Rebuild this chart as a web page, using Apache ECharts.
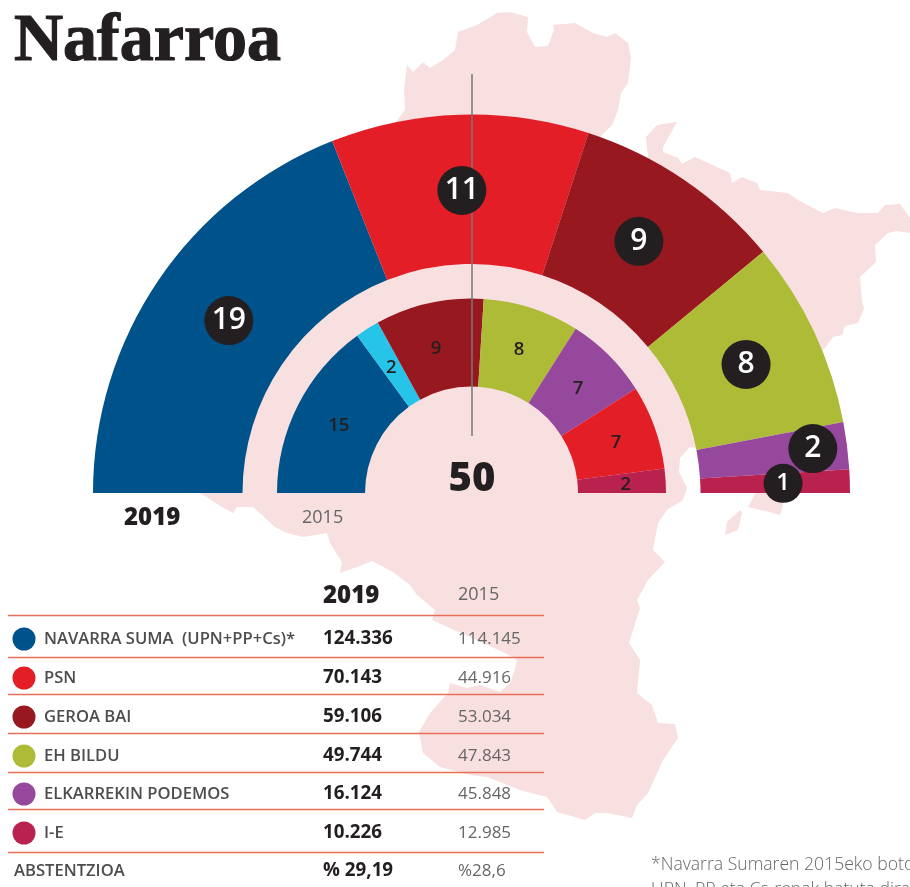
<!DOCTYPE html>
<html>
<head>
<meta charset="utf-8">
<title>Nafarroa</title>
<script src="https://cdn.jsdelivr.net/npm/echarts@6/dist/echarts.min.js"></script>
<style>
  html, body { margin: 0; padding: 0; background: #fff; overflow: hidden; }
  #chart { width: 910px; height: 887px; }
</style>
</head>
<body>
<div id="chart"></div>
<script>
// seats, left to right
const parties2019 = ['Navarra Suma', 'PSN', 'Geroa Bai', 'EH Bildu', 'Elkarrekin Podemos', 'I-E'];
const seats2019 = [19, 11, 9, 8, 2, 1];
const colors2019 = ['#00528a', '#e31e26', '#97181e', '#adbb36', '#96489c', '#b9214e'];

const parties2015 = ['UPN', 'PP', 'Geroa Bai', 'EH Bildu', 'Podemos', 'PSN', 'I-E'];
const seats2015 = [15, 2, 9, 8, 7, 7, 2];
const colors2015 = ['#00528a', '#27c4ea', '#97181e', '#adbb36', '#96489c', '#e31e26', '#b9214e'];

// table
const tableLabels = ['NAVARRA SUMA  (UPN+PP+Cs)*', 'PSN', 'GEROA BAI', 'EH BILDU', 'ELKARREKIN PODEMOS', 'I-E', 'ABSTENTZIOA'];
const tableDots = ['#00528a', '#e31e26', '#97181e', '#adbb36', '#96489c', '#b9214e', null];
const votes2019 = ['124.336', '70.143', '59.106', '49.744', '16.124', '10.226', '% 29,19'];
const votes2015 = ['114.145', '44.916', '53.034', '47.843', '45.848', '12.985', '%28,6'];
const rowTextY = [639, 678, 717, 756, 794, 833, 871];
const ruleY = [615, 657, 694, 733, 772, 809, 852];

// badge nudges off the ring middle
const badgeShift2019 = [[11, 0], [0, 4], [-5, 2], [-3, 2], [37, -6], [5, 0]];
const labelShift2015 = [[4, 2], [2, 4], [-2, 6], [0, 3], [-2, 4], [0, 2], [1, 1]];

// background map of Navarre
const mapMain = [
  [407, 65], [413, 72], [423, 62], [430, 68], [443, 60], [455, 50], [458, 32], [477, 25], [497, 13], [510, 12],
  [528, 17], [527, 32], [535, 47], [548, 46], [554, 30], [553, 25], [575, 23], [593, 33], [607, 37], [615, 33],
  [628, 43], [631, 58], [628, 83], [621, 93], [618, 110], [612, 125], [600, 137], [625, 160], [648, 157], [646, 137],
  [657, 125], [677, 122], [663, 147], [663, 152], [678, 158], [682, 164], [695, 157], [717, 167], [730, 173], [732, 183],
  [742, 177], [757, 183], [760, 190], [788, 193], [798, 200], [823, 213], [835, 208], [857, 213], [878, 213], [885, 205],
  [900, 204], [910, 218], [910, 233], [897, 231], [888, 233], [875, 245], [876, 262], [860, 277], [862, 302], [864, 308],
  [858, 323], [845, 326], [842, 335], [833, 337], [825, 348], [703, 449], [690, 447], [680, 458], [679, 472], [687, 488],
  [683, 500], [667, 510], [658, 523], [653, 550], [665, 562], [648, 580], [637, 600], [640, 608], [633, 630], [629, 643],
  [640, 660], [637, 693], [652, 705], [658, 723], [675, 724], [678, 738], [663, 760], [648, 793], [637, 805], [632, 818],
  [607, 813], [595, 813], [585, 820], [557, 812], [547, 797], [520, 790], [487, 777], [470, 775], [440, 767], [423, 753],
  [419, 732], [430, 713], [448, 693], [450, 683], [467, 688], [480, 685], [500, 692], [510, 683], [514, 672], [517, 660],
  [505, 653], [470, 637], [432, 620], [435, 610], [417, 595], [410, 585], [393, 572], [372, 561], [357, 567], [340, 573],
  [342, 562], [330, 543], [327, 533], [303, 537], [287, 533], [275, 527], [262, 515], [253, 507], [237, 507], [233, 513],
  [222, 507], [200, 493], [260, 300], [405, 110], [404, 90]
];
const mapIslandA = [[757, 490], [748, 507], [765, 511], [780, 515], [783, 505], [783, 490]];
const mapIslandB = [[740, 510], [727, 522], [725, 535], [738, 530], [742, 513]];

const FONT = '"Open Sans", sans-serif';
const INK = '#231f20';
const GREY = '#666666';
const RULE = '#e8705a';
const PINK = '#f8dfe0';

function pieData(names, values, colors) {
  return values.map((v, i) => ({ name: names[i], value: v, itemStyle: { color: colors[i] } }));
}

function shifted(shifts) {
  return params => ({ dx: shifts[params.dataIndex][0], dy: shifts[params.dataIndex][1] });
}

function text(x, y, str, size, weight, color, extra) {
  return {
    type: 'text',
    x: x,
    y: y,
    silent: true,
    style: Object.assign({
      text: str,
      fontFamily: FONT,
      fontSize: size,
      fontWeight: weight,
      fill: color,
      textVerticalAlign: 'middle'
    }, extra)
  };
}

const graphics = [
  { type: 'polygon', silent: true, shape: { points: mapMain }, style: { fill: PINK } },
  { type: 'polygon', silent: true, shape: { points: mapIslandA }, style: { fill: PINK } },
  { type: 'polygon', silent: true, shape: { points: mapIslandB }, style: { fill: PINK } },
  text(14, 42, 'Nafarroa', 68, 'bold', INK, { fontFamily: '"Liberation Serif", serif', stroke: INK, lineWidth: 1.2 }),
  text(124, 518, '2019', 24, 800, INK),
  text(302, 518, '2015', 18, 400, GREY),
  text(472, 480, '50', 40, 800, INK, { textAlign: 'center' }),
  text(323, 596, '2019', 24, 800, INK),
  text(458, 595, '2015', 18, 400, GREY),
  text(651, 865, '*Navarra Sumaren 2015eko botoak', 17.6, 300, GREY),
  text(651, 890, 'UPN, PP eta Cs-renak batuta dira.', 17.6, 300, GREY),
  // axis through the middle of both rings, under the badges
  {
    type: 'line',
    silent: true,
    z: 3,
    shape: { x1: 472, y1: 74, x2: 472, y2: 436 },
    style: { stroke: '#77777a', lineWidth: 1.5 }
  }
];

ruleY.forEach(y => {
  graphics.push({
    type: 'line',
    silent: true,
    shape: { x1: 8, y1: y + 0.5, x2: 544, y2: y + 0.5 },
    style: { stroke: RULE, lineWidth: 1.5 }
  });
});

tableLabels.forEach((label, i) => {
  const x = tableDots[i] ? 44 : 14;
  if (tableDots[i]) {
    graphics.push({
      type: 'circle',
      silent: true,
      shape: { cx: 24, cy: rowTextY[i], r: 11.5 },
      style: { fill: tableDots[i] }
    });
  }
  graphics.push(text(x, rowTextY[i], label, 16.6, 600, '#4d4d4f'));
  graphics.push(text(323, rowTextY[i], votes2019[i], 18.8, 700, INK));
  graphics.push(text(458, rowTextY[i], votes2015[i], 17, 400, GREY));
});

const chart = echarts.init(document.getElementById('chart'), null, { renderer: 'canvas' });

chart.setOption({
  animation: false,
  tooltip: { show: false },
  graphic: { elements: graphics },
  series: [
    {
      type: 'pie',
      z: 2,
      silent: true,
      center: [471.5, 493],
      radius: [229, 378.5],
      startAngle: 180,
      endAngle: 0,
      label: { show: false },
      labelLine: { show: false },
      data: pieData(parties2019, seats2019, colors2019)
    },
    {
      type: 'pie',
      z: 2,
      silent: true,
      center: [471.5, 493],
      radius: [106.5, 194.5],
      startAngle: 180,
      endAngle: 0,
      label: { show: false },
      labelLine: { show: false },
      data: pieData(parties2015, seats2015, colors2015)
    },
    // same rings again, see-through, so the labels sit on top of the grey line
    {
      type: 'pie',
      z: 4,
      silent: true,
      center: [471.5, 493],
      radius: [229, 378.5],
      startAngle: 180,
      endAngle: 0,
      itemStyle: { color: 'transparent' },
      labelLine: { show: false },
      label: {
        show: true,
        position: 'inside',
        formatter: p => (p.value < 2 ? '{small|' + p.value + '}' : '{big|' + p.value + '}'),
        rich: {
          big: {
            width: 49, height: 49, lineHeight: 49, borderRadius: 25, align: 'center',
            backgroundColor: INK, color: '#fff',
            fontFamily: FONT, fontSize: 30, fontWeight: 600
          },
          small: {
            width: 39, height: 39, lineHeight: 39, borderRadius: 20, align: 'center',
            backgroundColor: INK, color: '#fff',
            fontFamily: FONT, fontSize: 24, fontWeight: 600
          }
        }
      },
      labelLayout: shifted(badgeShift2019),
      data: seats2019.map((v, i) => ({ name: parties2019[i], value: v }))
    },
    {
      type: 'pie',
      z: 4,
      silent: true,
      center: [471.5, 493],
      radius: [106.5, 194.5],
      startAngle: 180,
      endAngle: 0,
      itemStyle: { color: 'transparent' },
      labelLine: { show: false },
      label: {
        show: true,
        position: 'inside',
        formatter: '{c}',
        color: INK,
        fontFamily: FONT,
        fontSize: 18.5,
        fontWeight: 600
      },
      labelLayout: shifted(labelShift2015),
      data: seats2015.map((v, i) => ({ name: parties2015[i], value: v }))
    }
  ]
});
</script>
</body>
</html>
